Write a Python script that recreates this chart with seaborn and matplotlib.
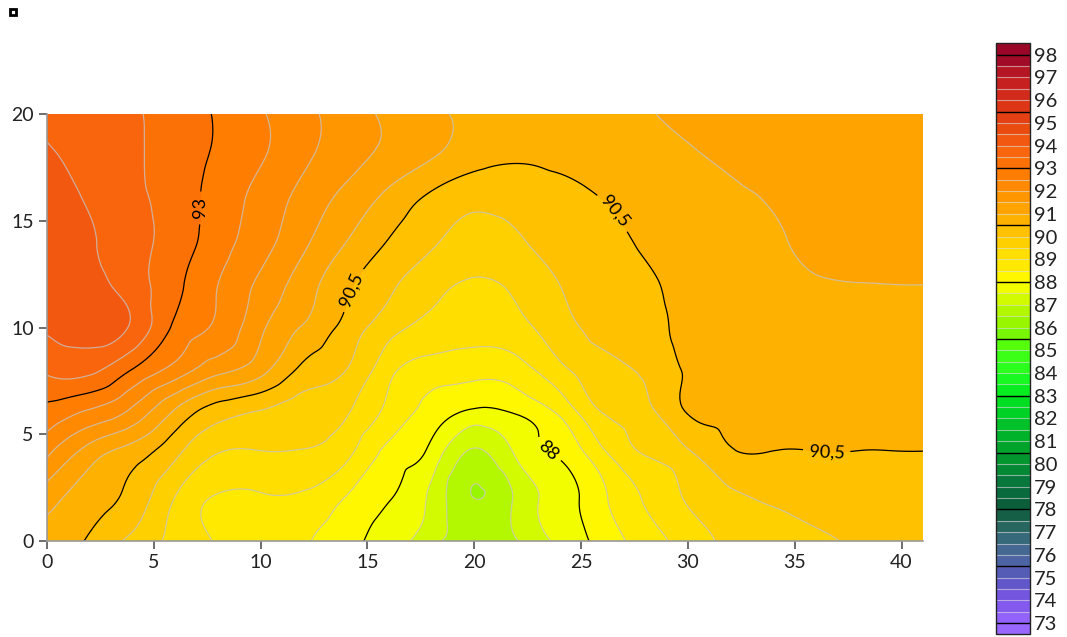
import numpy as np
import seaborn as sns
import matplotlib
matplotlib.use("Agg")
import matplotlib.pyplot as plt
import matplotlib.tri as mtri
from matplotlib.colors import LinearSegmentedColormap
from matplotlib.patches import Rectangle

# grid (x across, y up)
x_vals = [0, 2, 4, 6, 8, 10, 12, 14, 16, 18, 20, 22, 24, 26, 28, 30, 32, 34, 36, 38, 40, 41]
y_vals = [0, 2, 4, 6, 8, 10, 12, 14, 16, 18, 20]

z_y00 = [90.70, 90.45, 89.85, 89.36, 88.96, 88.75, 88.55, 88.20, 87.75, 87.15, 86.80, 86.98, 87.60, 88.20, 88.74, 89.22, 89.62, 89.80, 89.93, 90.05, 90.15, 90.20]
z_y02 = [91.20, 90.72, 90.32, 89.48, 88.95, 88.93, 88.90, 88.47, 88.03, 87.38, 86.50, 87.10, 87.75, 88.40, 89.05, 89.55, 89.88, 90.07, 90.18, 90.23, 90.27, 90.28]
z_y04 = [92.04, 91.20, 90.70, 90.07, 89.47, 89.45, 89.43, 89.10, 88.33, 87.80, 86.88, 87.55, 88.05, 88.85, 89.50, 89.88, 90.42, 90.46, 90.47, 90.47, 90.475, 90.475]
z_y06 = [92.82, 92.40, 91.85, 90.90, 90.20, 89.95, 89.75, 89.55, 88.85, 88.30, 87.87, 88.04, 88.58, 89.50, 89.85, 90.52, 90.63, 90.65, 90.66, 90.66, 90.66, 90.66]
z_y08 = [93.58, 93.62, 92.97, 92.30, 91.65, 91.17, 90.37, 90.00, 89.15, 88.75, 88.65, 88.78, 89.35, 89.80, 90.10, 90.56, 90.67, 90.71, 90.74, 90.75, 90.76, 90.76]
z_y10 = [94.08, 94.20, 93.92, 92.90, 92.40, 91.60, 90.95, 90.33, 89.70, 89.35, 89.25, 89.35, 89.80, 90.15, 90.37, 90.60, 90.73, 90.80, 90.85, 90.88, 90.89, 90.89]
z_y12 = [94.30, 94.15, 93.75, 93.14, 92.50, 91.88, 91.25, 90.60, 90.10, 89.65, 89.45, 89.60, 90.00, 90.25, 90.43, 90.63, 90.77, 90.88, 90.96, 90.99, 91.00, 91.00]
z_y14 = [94.25, 94.05, 93.70, 93.28, 92.72, 92.20, 91.60, 91.00, 90.47, 90.07, 89.80, 89.93, 90.20, 90.35, 90.56, 90.72, 90.85, 90.95, 91.10, 91.18, 91.20, 91.20]
z_y16 = [94.20, 93.95, 93.62, 93.28, 92.80, 92.33, 91.83, 91.35, 90.85, 90.38, 90.12, 90.20, 90.35, 90.50, 90.67, 90.80, 90.92, 91.03, 91.15, 91.22, 91.25, 91.25]
z_y18 = [94.05, 93.85, 93.58, 93.28, 92.92, 92.55, 92.10, 91.70, 91.35, 91.03, 90.70, 90.56, 90.60, 90.70, 90.83, 90.95, 91.08, 91.20, 91.25, 91.28, 91.30, 91.30]
z_y20 = [93.90, 93.75, 93.57, 93.25, 92.95, 92.55, 92.15, 91.75, 91.40, 91.10, 90.90, 90.80, 90.78, 90.85, 90.97, 91.08, 91.18, 91.25, 91.30, 91.30, 91.30, 91.30]

# colour scale anchors (value, colour) as on the colour bar
scale_values = [73, 74, 75, 76, 77, 78, 79, 80, 81, 82, 83, 84, 85, 86, 87,
                88, 89, 90, 91, 92, 93, 94, 95, 96, 97, 98]
scale_colors = ["#9966ff", "#7a55e6", "#5a58c0", "#48689a", "#2e6a6a", "#0b5a38",
                "#087040", "#049030", "#00aa2a", "#00c828", "#00e81e", "#22ff22",
                "#44ff11", "#88f500", "#c0f800", "#ffff00", "#ffe400", "#ffc800",
                "#ffaa00", "#ff9000", "#ff7800", "#f66010", "#e84810", "#d83018",
                "#c01c22", "#9a0628"]

levels = np.arange(72.5, 98.51, 0.5)
major_levels = np.arange(73, 98.5, 2.5)
cbar_ticks = np.arange(73, 99, 1)
# where the contour labels sit
label_spots = [(7.0, 15.6), (14.2, 11.8), (26.4, 15.3), (36.5, 4.3), (23.5, 4.3)]

sns.set_theme(style="white")
plt.rcParams["font.family"] = ["Lato", "DejaVu Sans"]

vmin, vmax = levels[0], levels[-1]
cmap = LinearSegmentedColormap.from_list(
    "scale", [(0.0, scale_colors[0])]
    + [((v - vmin) / (vmax - vmin), c) for v, c in zip(scale_values, scale_colors)]
    + [(1.0, scale_colors[-1])])

X, Y = np.meshgrid(x_vals, y_vals)
Z = np.array([z_y00, z_y02, z_y04, z_y06, z_y08, z_y10,
              z_y12, z_y14, z_y16, z_y18, z_y20])

tri = mtri.Triangulation(X.ravel(), Y.ravel())
tri_f, z_f = mtri.UniformTriRefiner(tri).refine_field(Z.ravel(), subdiv=4)

fig = plt.figure(figsize=(10.67, 6.37), dpi=100)
ax = fig.add_axes([0.044, 0.1507, 0.821, 0.6703])

cf = ax.tricontourf(tri_f, z_f, levels=levels, cmap=cmap, vmin=vmin, vmax=vmax)
minor = [l for l in levels if not np.any(np.isclose(l, major_levels))]
ax.tricontour(tri_f, z_f, levels=minor, colors=[(0.78, 0.78, 0.78)], linewidths=0.9, alpha=0.75)
cs = ax.tricontour(tri_f, z_f, levels=major_levels, colors="black", linewidths=0.9)
ax.clabel(cs, fmt=lambda v: f"{v:g}".replace(".", ","), manual=label_spots,
          fontsize=13, inline=True, inline_spacing=6)

ax.set_xlim(0, 41)
ax.set_ylim(0, 20)
ax.set_xticks(np.arange(0, 41, 5))
ax.set_yticks(np.arange(0, 21, 5))
for s in ["top", "right"]:
    ax.spines[s].set_visible(False)
for s in ["left", "bottom"]:
    ax.spines[s].set_color("#999999")
    ax.spines[s].set_linewidth(1.2)
ax.tick_params(axis="both", which="major", direction="out", length=6, width=1.2,
               color="#555555", labelsize=14, labelcolor="#222222",
               bottom=True, left=True)

cax = fig.add_axes([0.9335, 0.004, 0.032, 0.928])
cbar = fig.colorbar(cf, cax=cax, ticks=cbar_ticks)
cbar.outline.set_edgecolor("#222222")
cbar.outline.set_linewidth(1.0)
for lev in levels:
    is_major = np.any(np.isclose(lev, major_levels))
    cax.axhline(lev, color="black" if is_major else "#dddddd",
                lw=1.0 if is_major else 0.8, alpha=1.0 if is_major else 0.6)
cax.tick_params(length=0, labelsize=14.5, labelcolor="#222222", pad=3)

# little empty legend box in the corner
fig.add_artist(Rectangle((0.0094, 0.977), 0.0056, 0.0094, transform=fig.transFigure,
                         facecolor="white", edgecolor="black", lw=2))

fig.savefig("out.png", dpi=100)
